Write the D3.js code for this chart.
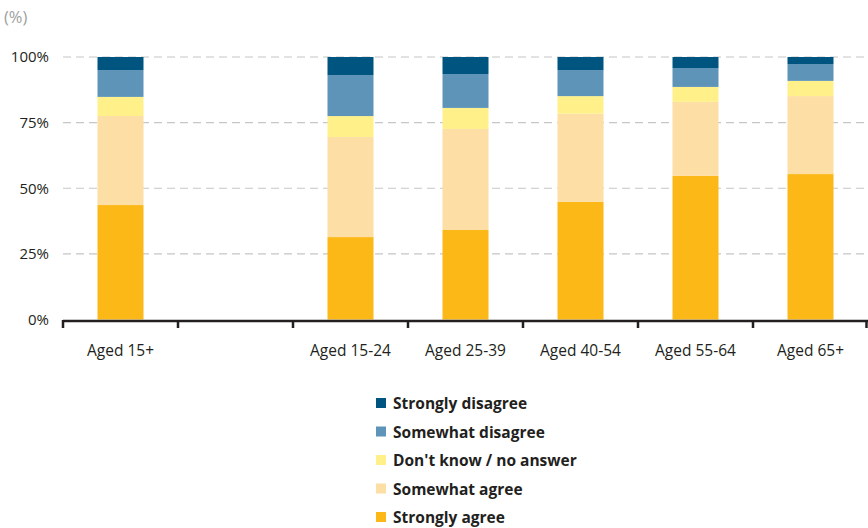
<!DOCTYPE html>
<html><head><meta charset="utf-8">
<script src="https://cdn.jsdelivr.net/npm/d3@7"></script>
<style>body{margin:0;background:#fff}svg{display:block}</style>
</head><body>
<script>
const categories = ["Aged 15+", "", "Aged 15-24", "Aged 25-39", "Aged 40-54", "Aged 55-64", "Aged 65+"];
const seriesNames = ["Strongly agree", "Somewhat agree", "Don't know / no answer", "Somewhat disagree", "Strongly disagree"];
const stronglyAgree    = [43.6, null, 31.4, 34.1, 44.8, 54.7, 55.4];
const somewhatAgree    = [33.9, null, 38.1, 38.5, 33.6, 28.2, 29.7];
const dontKnow         = [7.3,  null, 8.0,  8.0,  6.7,  5.7,  5.8];
const somewhatDisagree = [10.2, null, 15.6, 12.9, 9.9,  7.2,  6.4];
const stronglyDisagree = [5.0,  null, 6.9,  6.5,  5.0,  4.2,  2.7];
const yTicks = [0, 25, 50, 75, 100];
const colors = ["#fbb817", "#fddea4", "#fff08a", "#5d94b8", "#005480"];

const W = 868, H = 528;
const svg = d3.select("body").append("svg").attr("width", W).attr("height", H)
  .style("font-family", "'Open Sans', sans-serif");

const x = d3.scaleBand().domain(d3.range(categories.length)).range([63, 868]).paddingInner(0).paddingOuter(0);
const y = d3.scaleLinear().domain([0, 100]).range([319.5, 57]);

const seriesVals = [stronglyAgree, somewhatAgree, dontKnow, somewhatDisagree, stronglyDisagree];
const rows = categories.map((c, i) => {
  const r = {i};
  seriesNames.forEach((s, k) => r[s] = seriesVals[k][i] || 0);
  return r;
});
const stack = d3.stack().keys(seriesNames)(rows);

// (%) label
svg.append("text").attr("x", 4).attr("y", 23).attr("fill", "#a0a0a0").attr("font-size", 16.5).text("(%)");

// gridlines
svg.append("g").selectAll("line").data(yTicks.filter(d => d > 0)).join("line")
  .attr("x1", 63).attr("x2", W).attr("y1", d => y(d)).attr("y2", d => y(d))
  .attr("stroke", "#c6c6c6").attr("stroke-width", 1.2).attr("stroke-dasharray", "8,5");

// y labels
svg.append("g").selectAll("text").data(yTicks).join("text")
  .attr("x", 49).attr("y", d => y(d)).attr("dy", "0.35em").attr("text-anchor", "end")
  .attr("font-size", 15).attr("fill", "#231f20").text(d => d + "%");

// bars
const bw = 46;
svg.append("g").selectAll("g").data(stack).join("g")
  .attr("fill", (d, k) => colors[k])
  .selectAll("rect").data(d => d.filter(p => p[1] > p[0])).join("rect")
  .attr("x", p => x(p.data.i) + x.bandwidth() / 2 - bw / 2)
  .attr("width", bw)
  .attr("y", p => y(p[1]))
  .attr("height", p => y(p[0]) - y(p[1]));

// x axis
const xAxis = svg.append("g");
xAxis.append("line").attr("x1", 63).attr("x2", W).attr("y1", 321).attr("y2", 321)
  .attr("stroke", "#231f20").attr("stroke-width", 2.5);
const boundaries = d3.range(categories.length + 1).map(i => 63 + i * x.step());
xAxis.selectAll("line.tick").data(boundaries).join("line").attr("class", "tick")
  .attr("x1", d => Math.min(d, W - 1.5)).attr("x2", d => Math.min(d, W - 1.5)).attr("y1", 320).attr("y2", 328)
  .attr("stroke", "#231f20").attr("stroke-width", 2.5);
xAxis.selectAll("text").data(categories.map((c, i) => ({c, i})).filter(d => d.c)).join("text")
  .attr("x", d => x(d.i) + x.bandwidth() / 2).attr("y", 355.5).attr("text-anchor", "middle")
  .attr("font-size", 15.5).attr("fill", "#231f20").text(d => d.c);

// legend
const legendOrder = [4, 3, 2, 1, 0];
const lg = svg.append("g").selectAll("g").data(legendOrder).join("g")
  .attr("transform", (k, j) => `translate(376, ${404 + j * 28.5})`);
lg.append("rect").attr("x", 0).attr("y", -6).attr("width", 10).attr("height", 10).attr("fill", k => colors[k]);
lg.append("text").attr("x", 17).attr("y", 0).attr("dy", "0.35em").attr("font-size", 15.5)
  .attr("font-weight", 700).attr("fill", "#231f20").text(k => seriesNames[k]);
</script>
</body></html>
